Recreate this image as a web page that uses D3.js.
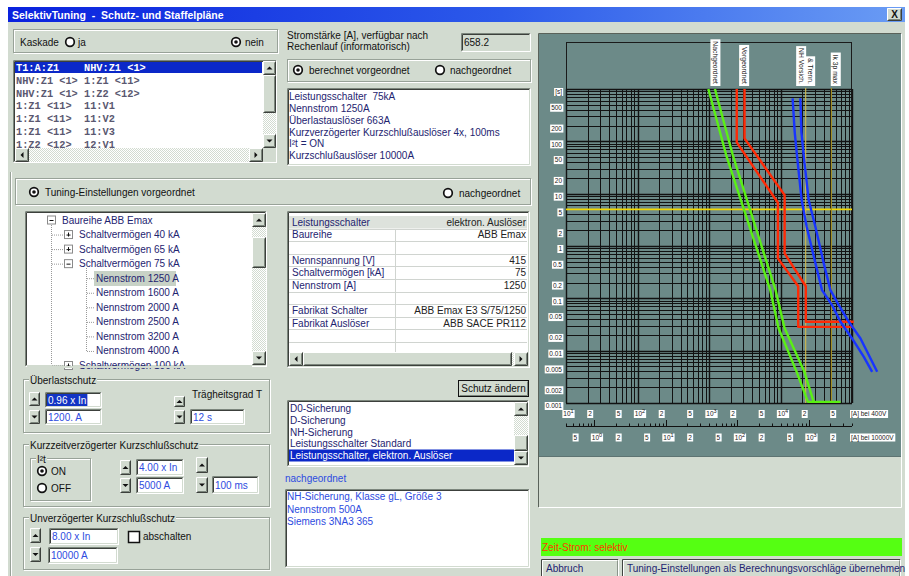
<!DOCTYPE html>
<html>
<head>
<meta charset="utf-8">
<title>SelektivTuning</title>
<script src="https://cdn.jsdelivr.net/npm/d3@7"></script>
<style>
  body { margin: 0; background: #ffffff; overflow: hidden; }
  svg { display: block; font-family: "Liberation Sans", Arial, sans-serif; }
  .pre { white-space: pre; }
</style>
</head>
<body>
<div id="app"></div>
<script>
// ---- chart data: current in A (at 400 V), time in s ----
const timeTicks  = [1000, 500, 200, 100, 50, 20, 10, 5, 2, 1, 0.5, 0.2, 0.1, 0.05, 0.02, 0.01, 0.005, 0.002, 0.001];
const timeLabels = ["[s]", "500", "200", "100", "50", "20", "10", "5", "2", "1", "0.5", "0.2", "0.1", "0.05", "0.02", "0.01", "0.005", "0.002", "0.001"];
const ampTicks400  = [10, 20, 50, 100, 200, 500, 1000, 2000, 5000, 10000, 20000, 50000];
const ampLabels400 = ["10^1", "2", "5", "10^2", "2", "5", "10^3", "2", "5", "10^4", "2", "5"];
const ampTicks10k  = [0.5, 1, 2, 5, 10, 20, 50, 100, 200, 500, 1000, 2000];
const ampLabels10k = ["5", "10^0", "2", "5", "10^1", "2", "5", "10^2", "2", "5", "10^3", "2"];

// downstream fuse NH gL 500A (band)
const fuseMin = [[980, 1000], [1738, 54.7], [7190, 0.1436], [9400, 0.0269], [16820, 0.00394], [24220, 0.00105], [69000, 0.00105]];
const fuseMax = [[1210, 1000], [2150, 54.7], [8530, 0.1436], [11420, 0.0269], [21570, 0.00394], [29120, 0.00105]];
// upstream breaker ABB Emax 1250A (band)
const breakerMin = [[2445, 1000], [2445, 95.7], [9200, 6.7], [9200, 0.58], [17700, 0.17], [17700, 0.0285], [106000, 0.0285]];
const breakerMax = [[3138, 1000], [3138, 114], [11420, 9.4], [11420, 0.72], [22600, 0.17], [22600, 0.0356], [106000, 0.0356]];
// medium voltage fuse (band)
const mvFuseMin = [[14780, 664], [15800, 150], [16980, 54.7], [19770, 7.55], [23230, 2.33], [30760, 0.471], [38080, 0.1436], [52600, 0.0741], [69000, 0.0356], [100300, 0.0171], [146400, 0.0076], [191400, 0.00394]];
const mvFuseMax = [[18960, 664], [19600, 150], [21090, 54.7], [24770, 7.55], [30760, 2.33], [40200, 0.471], [49900, 0.1436], [65300, 0.0741], [90200, 0.0356], [131500, 0.0171], [225000, 0.00394]];

const selectTime = 5;
const ikCurrents = [22500, 51500];
const tagTexts = ["Nachgeordnet", "Vorgeordnet", "NH Vorsich.", "& Trenn.", "Ik 3p max"];
const tagAmps  = [1230, 3100, 19450, 26000, 59300];

// ---- dialog texts ----
const cascadeRows = ["T1:A:Z1    NHV:Z1 <1>", "NHV:Z1 <1> 1:Z1 <11>", "NHV:Z1 <1> 1:Z2 <12>", "1:Z1 <11>  11:V1", "1:Z1 <11>  11:V2", "1:Z1 <11>  11:V3", "1:Z2 <12>  12:V1"];
const infoLines = ["Leistungsschalter  75kA", "Nennstrom 1250A", "Überlastauslöser 663A", "Kurzverzögerter Kurzschlußauslöser 4x, 100ms", "I²t = ON", "Kurzschlußauslöser 10000A"];
const treeTexts  = ["Baureihe ABB Emax", "Schaltvermögen 40 kA", "Schaltvermögen 65 kA", "Schaltvermögen 75 kA", "Nennstrom 1250 A", "Nennstrom 1600 A", "Nennstrom 2000 A", "Nennstrom 2500 A", "Nennstrom 3200 A", "Nennstrom 4000 A", "Schaltvermögen 100 kA"];
const treeLevels = [0, 1, 1, 1, 2, 2, 2, 2, 2, 2, 1];
const treeBoxes  = ["-", "+", "+", "-", "", "", "", "", "", "", "+"];
const propLabels = ["Leistungsschalter", "Baureihe", "", "Nennspannung [V]", "Schaltvermögen [kA]", "Nennstrom [A]", "", "Fabrikat Schalter", "Fabrikat Auslöser", "", ""];
const propValues = ["elektron. Auslöser", "ABB Emax", "", "415", "75", "1250", "", "ABB Emax E3 S/75/1250", "ABB SACE PR112", "", ""];
const protectionTypes = ["D0-Sicherung", "D-Sicherung", "NH-Sicherung", "Leistungsschalter Standard", "Leistungsschalter, elektron. Auslöser"];
const downstreamLines = ["NH-Sicherung, Klasse gL, Größe 3", "Nennstrom 500A", "Siemens 3NA3 365"];

const BODY = "#d2dbd0", TEAL = "#6c8a88", NAVY = "#1e2470", BLUE = "#2d4be0";

const svg = d3.select("#app").append("svg").attr("width", 909).attr("height", 576);
const defs = svg.append("defs");
const pat = defs.append("pattern").attr("id", "dots").attr("width", 2).attr("height", 2).attr("patternUnits", "userSpaceOnUse");
pat.append("rect").attr("width", 2).attr("height", 2).attr("fill", "#ffffff");
pat.append("rect").attr("width", 1).attr("height", 1).attr("fill", BODY);
pat.append("rect").attr("x", 1).attr("y", 1).attr("width", 1).attr("height", 1).attr("fill", BODY);
const grad = defs.append("linearGradient").attr("id", "titlebar");
grad.append("stop").attr("offset", 0).attr("stop-color", "#0a22de");
grad.append("stop").attr("offset", 0.55).attr("stop-color", "#2c5aea");
grad.append("stop").attr("offset", 1).attr("stop-color", "#6a9cf4");

function rect(g, x, y, w, h, fill, stroke) {
  return g.append("rect").attr("x", x).attr("y", y).attr("width", w).attr("height", h)
    .attr("fill", fill || "none").attr("stroke", stroke || "none");
}
function edge(g, x, y, w, h, tl, br) {
  g.append("path").attr("d", `M${x + .5},${y + h - .5}V${y + .5}H${x + w - .5}`).attr("fill", "none").attr("stroke", tl);
  g.append("path").attr("d", `M${x + w - .5},${y + .5}V${y + h - .5}H${x + .5}`).attr("fill", "none").attr("stroke", br);
}
function sunken(g, x, y, w, h, fill) {
  rect(g, x, y, w, h, fill);
  edge(g, x, y, w, h, "#7c867c", "#ffffff");
  edge(g, x + 1, y + 1, w - 2, h - 2, "#3c403c", BODY);
}
function raised(g, x, y, w, h) {
  rect(g, x, y, w, h, BODY);
  edge(g, x, y, w, h, "#ffffff", "#3c403c");
  edge(g, x + 1, y + 1, w - 2, h - 2, BODY, "#7c867c");
}
function label(g, x, cy, s, size, fill, anchor, weight) {
  return g.append("text").attr("x", x).attr("y", cy).attr("dy", "0.35em")
    .attr("font-size", size || 10).attr("fill", fill || "#111")
    .attr("text-anchor", anchor || "start").attr("font-weight", weight || "normal").text(s);
}
function group(g, x, y, w, h, title) {
  rect(g, x + 1.5, y + 1.5, w - 1, h - 1, "none", "#ffffff");
  rect(g, x + .5, y + .5, w - 1, h - 1, "none", "#98a298");
  if (title) {
    const t = label(g, x + 7, y + 1, title, 10, "#111");
    const bb = t.node().getBBox();
    g.insert("rect", () => t.node()).attr("x", bb.x - 1).attr("y", y - 1).attr("width", bb.width + 2).attr("height", 4).attr("fill", BODY);
  }
}
function arrowBtn(g, x, y, w, h, dir) {
  raised(g, x, y, w, h);
  const cx = x + w / 2, cy = y + h / 2, s = 3;
  const d = {
    up: `M${cx - s},${cy + 1.5}L${cx + s},${cy + 1.5}L${cx},${cy - 1.5}Z`,
    down: `M${cx - s},${cy - 1.5}L${cx + s},${cy - 1.5}L${cx},${cy + 1.5}Z`,
    left: `M${cx + 1.5},${cy - s}L${cx + 1.5},${cy + s}L${cx - 1.5},${cy}Z`,
    right: `M${cx - 1.5},${cy - s}L${cx - 1.5},${cy + s}L${cx + 1.5},${cy}Z`
  }[dir];
  g.append("path").attr("d", d).attr("fill", "#111");
}
function vscroll(g, x, y, w, h, ty, th) {
  rect(g, x, y, w, h, "url(#dots)");
  arrowBtn(g, x, y, w, 14, "up");
  arrowBtn(g, x, y + h - 14, w, 14, "down");
  raised(g, x, ty, w, th);
}
function hscroll(g, x, y, w, h, tx, tw) {
  rect(g, x, y, w, h, "url(#dots)");
  arrowBtn(g, x, y, 14, h, "left");
  arrowBtn(g, x + w - 14, y, 14, h, "right");
  if (tw) raised(g, tx, y, tw, h);
}
function radio(g, cx, cy, on) {
  g.append("circle").attr("cx", cx).attr("cy", cy).attr("r", 4.3).attr("fill", "#fff").attr("stroke", "#111").attr("stroke-width", 1.7);
  if (on) g.append("circle").attr("cx", cx).attr("cy", cy).attr("r", 1.8).attr("fill", "#111");
}
function field(g, x, y, w, h, s, selected) {
  sunken(g, x, y, w, h, "#ffffff");
  const t = label(g, x + 3, y + h / 2, s, 10, selected ? "#ffffff" : BLUE);
  if (selected) {
    const bb = t.node().getBBox();
    g.insert("rect", () => t.node()).attr("x", bb.x - 1).attr("y", y + 2).attr("width", bb.width + 2).attr("height", h - 4).attr("fill", "#1234c4");
  }
}

// ---- window frame ----
const ui = svg.append("g");
rect(ui, 8, 22, 897, 554, BODY);
rect(ui, 8, 7, 897, 15, "url(#titlebar)");
label(ui, 12, 15, "SelektivTuning  -  Schutz- und Staffelpläne", 10.5, "#ffffff", "start", "bold").attr("class", "pre");
raised(ui, 887, 8, 15, 13);
label(ui, 894.5, 14.5, "X", 10, "#111", "middle", "bold");
ui.append("line").attr("x1", 10.5).attr("x2", 10.5).attr("y1", 172).attr("y2", 576).attr("stroke", "#98a298");
ui.append("line").attr("x1", 11.5).attr("x2", 11.5).attr("y1", 172).attr("y2", 576).attr("stroke", "#ffffff");

// cascade
group(ui, 13, 29, 265, 24);
label(ui, 20, 42, "Kaskade", 10);
radio(ui, 70, 42, false); label(ui, 78, 42, "ja", 10);
radio(ui, 236, 42, true); label(ui, 245, 42, "nein", 10);

sunken(ui, 13, 60, 264, 103, "#ffffff");
rect(ui, 15, 62, 247, 11, "#0b28c8");
ui.append("g").selectAll("text").data(cascadeRows).join("text")
  .attr("x", 16).attr("y", (d, i) => 67.7 + i * 12.7).attr("dy", "0.35em")
  .attr("font-family", "'Liberation Mono', 'Courier New', monospace").attr("font-size", 10.3).attr("font-weight", "bold")
  .attr("fill", (d, i) => i === 0 ? "#ffffff" : "#5a5870").attr("class", "pre")
  .text(d => d);
vscroll(ui, 263, 61, 13, 87, 75, 38);
hscroll(ui, 15, 148, 248, 14, 0, 0);
rect(ui, 263, 148, 13, 14, BODY);

// current info
label(ui, 287, 35, "Stromstärke [A], verfügbar nach", 10);
label(ui, 287, 46, "Rechenlauf (informatorisch)", 10);
sunken(ui, 461, 33, 70, 19, BODY);
label(ui, 464, 42, "658.2", 10);

group(ui, 287, 59, 244, 23);
radio(ui, 298, 70, true); label(ui, 309, 70, "berechnet vorgeordnet", 10);
radio(ui, 440, 70, false); label(ui, 450, 70, "nachgeordnet", 10);

sunken(ui, 287, 88, 244, 78, "#ffffff");
ui.append("g").selectAll("text").data(infoLines).join("text")
  .attr("x", 289).attr("y", (d, i) => 96.7 + i * 11.8).attr("dy", "0.35em").attr("class", "pre")
  .attr("font-size", 10).attr("fill", NAVY).text(d => d);

// tuning header
group(ui, 15, 178, 516, 27);
radio(ui, 34, 192, true); label(ui, 45, 192, "Tuning-Einstellungen vorgeordnet", 10);
radio(ui, 448, 193, false); label(ui, 459, 193, "nachgeordnet", 10);

// tree view
sunken(ui, 25, 211, 242, 156, "#ffffff");
const tree = ui.append("g");
tree.append("line").attr("x1", 51.5).attr("x2", 51.5).attr("y1", 225).attr("y2", 365).attr("stroke", "#999").attr("stroke-dasharray", "1,1");
tree.append("line").attr("x1", 86.5).attr("x2", 86.5).attr("y1", 268).attr("y2", 351).attr("stroke", "#999").attr("stroke-dasharray", "1,1");
rect(tree, 94, 271, 82, 15, "#c8d2c6");
treeTexts.forEach((s, i) => {
  const cy = 220 + i * 14.55, lv = treeLevels[i];
  const tx = [62, 79, 96][lv];
  if (lv === 1) tree.append("line").attr("x1", 52).attr("x2", 64).attr("y1", cy + .5).attr("y2", cy + .5).attr("stroke", "#999").attr("stroke-dasharray", "1,1");
  if (lv === 2) tree.append("line").attr("x1", 87).attr("x2", 94).attr("y1", cy + .5).attr("y2", cy + .5).attr("stroke", "#999").attr("stroke-dasharray", "1,1");
  if (treeBoxes[i]) {
    const bx = [47, 64][lv];
    rect(tree, bx + .5, cy - 4, 8, 8, "#ffffff", "#8a8a8a");
    tree.append("line").attr("x1", bx + 2.5).attr("x2", bx + 6.5).attr("y1", cy + .5).attr("y2", cy + .5).attr("stroke", "#111");
    if (treeBoxes[i] === "+") tree.append("line").attr("x1", bx + 4.5).attr("x2", bx + 4.5).attr("y1", cy - 2).attr("y2", cy + 2).attr("stroke", "#111");
  }
  label(tree, tx, cy, s, 10, NAVY);
});
rect(ui, 27, 366, 225, 2, BODY);
vscroll(ui, 252, 213, 14, 152, 237, 31);

// property grid
sunken(ui, 287, 211, 243, 157, "#ffffff");
const grid = ui.append("g");
rect(grid, 289, 216, 238, 12.5, "#dde2dc");
propLabels.forEach((s, i) => {
  const cy = 222.3 + i * 12.6;
  grid.append("line").attr("x1", 289).attr("x2", 527).attr("y1", Math.round(cy + 6.3) + .5).attr("y2", Math.round(cy + 6.3) + .5).attr("stroke", "#d0d4d0");
  label(grid, 292, cy, s, 10, NAVY);
  label(grid, 526, cy, propValues[i], 10, "#222", "end");
});
grid.append("line").attr("x1", 395.5).attr("x2", 395.5).attr("y1", 229).attr("y2", 352).attr("stroke", "#d0d4d0");
hscroll(ui, 289, 352, 239, 14, 303, 209);

raised(ui, 458, 380, 71, 17);
rect(ui, 458.5, 380.5, 70, 16, "none", "#111");
label(ui, 493.5, 388.5, "Schutz ändern", 10, "#111", "middle");

sunken(ui, 287, 400, 242, 67, "#ffffff");
rect(ui, 289, 449.5, 225, 12, "#0b28c8");
ui.append("g").selectAll("text").data(protectionTypes).join("text")
  .attr("x", 290).attr("y", (d, i) => 408.3 + i * 11.85).attr("dy", "0.35em").attr("font-size", 10)
  .attr("fill", (d, i) => i === protectionTypes.length - 1 ? "#ffffff" : NAVY).text(d => d);
vscroll(ui, 514, 402, 14, 63, 435, 16);

label(ui, 285, 478, "nachgeordnet", 10, BLUE);
sunken(ui, 285, 489, 245, 79, "#ffffff");
ui.append("g").selectAll("text").data(downstreamLines).join("text")
  .attr("x", 287).attr("y", (d, i) => 496.7 + i * 12.5).attr("dy", "0.35em").attr("font-size", 10)
  .attr("fill", BLUE).text(d => d);

// overload protection
group(ui, 23, 379, 247, 54, "Überlastschutz");
arrowBtn(ui, 29, 392, 11, 14, "up"); field(ui, 45, 392, 57, 16, "0.96 x In", true);
arrowBtn(ui, 29, 410, 11, 14, "down"); field(ui, 45, 409, 57, 16, "1200. A");
label(ui, 192, 394, "Trägheitsgrad T", 10);
arrowBtn(ui, 174, 396, 11, 11, "up"); field(ui, 190, 409, 55, 16, "12 s");
arrowBtn(ui, 174, 410, 11, 14, "down");

group(ui, 23, 444, 247, 63, "Kurzzeitverzögerter Kurzschlußschutz");
group(ui, 30, 458, 61, 43, "I²t");
radio(ui, 42, 471, true); label(ui, 51, 471, "ON", 10);
radio(ui, 42, 488, false); label(ui, 51, 488, "OFF", 10);
arrowBtn(ui, 120, 460, 11, 15, "up"); field(ui, 136, 459, 48, 17, "4.00 x In");
arrowBtn(ui, 120, 478, 11, 15, "down"); field(ui, 136, 477, 48, 17, "5000 A");
arrowBtn(ui, 196, 457, 12, 16, "up");
arrowBtn(ui, 196, 477, 12, 16, "down"); field(ui, 212, 476, 47, 18, "100 ms");

group(ui, 23, 517, 247, 53, "Unverzögerter Kurzschlußschutz");
arrowBtn(ui, 30, 528, 11, 15, "up"); field(ui, 49, 528, 70, 17, "8.00 x In");
arrowBtn(ui, 30, 547, 11, 15, "down"); field(ui, 48, 547, 70, 17, "10000 A");
rect(ui, 128.5, 531.5, 11, 11, "#ffffff", "#111").attr("stroke-width", 1.5);
label(ui, 143, 536, "abschalten", 10);

// status + buttons
rect(ui, 541, 538, 361, 18, "#55ff12");
label(ui, 542, 547, "Zeit-Strom: selektiv", 10, "#ff3a00");
[[541, 78, "Abbruch"], [622, 279, "Tuning-Einstellungen als Berechnungsvorschläge übernehmen"]].forEach(b => {
  rect(ui, b[0], 559, b[1], 20, BODY);
  edge(ui, b[0], 559, b[1], 20, "#404540", "#ffffff");
  edge(ui, b[0] + 1, 560, b[1] - 2, 18, "#ffffff", "#8a948a");
  label(ui, b[0] + 5, 568, b[2], 10, NAVY);
});

// ---- chart panel ----
rect(ui, 538, 33, 364, 475, BODY);
edge(ui, 538, 33, 364, 475, "#5a625a", "#ffffff");
rect(ui, 539, 34, 362, 422, TEAL);
ui.append("line").attr("x1", 539).attr("x2", 901).attr("y1", 456.5).attr("y2", 456.5).attr("stroke", "#5e7472");

const x = d3.scaleLog().domain([10, 1e5]).range([566, 852]);
const x10k = d3.scaleLog().domain([0.4, 4000]).range([566, 852]);
const y = d3.scaleLog().domain([1000, 0.001]).range([89, 403]);
const isDecade = v => Math.abs(Math.log10(v) - Math.round(Math.log10(v))) < 1e-9;

const chart = svg.append("g");
chart.append("rect").attr("x", 566.5).attr("y", 42.5).attr("width", 285).attr("height", 361)
  .attr("fill", "none").attr("stroke", "#1a1a1a");

chart.append("g").selectAll("line").data(x.ticks()).join("line")
  .attr("x1", d => Math.round(x(d)) + .5).attr("x2", d => Math.round(x(d)) + .5)
  .attr("y1", 89).attr("y2", 403).attr("stroke", "#121212").attr("stroke-width", d => isDecade(d) ? 1.4 : 1);
chart.append("g").selectAll("line").data(y.ticks()).join("line")
  .attr("x1", 566).attr("x2", 852)
  .attr("y1", d => Math.round(y(d)) + .5).attr("y2", d => Math.round(y(d)) + .5)
  .attr("stroke", "#121212").attr("stroke-width", d => isDecade(d) ? 1.4 : 1);

// axis labels in white boxes
function boxedText(g, xPos, cy, s, anchor) {
  const t = g.append("text").attr("x", xPos).attr("y", cy).attr("dy", "0.35em")
    .attr("font-size", 6.5).attr("fill", "#1a1a1a").attr("text-anchor", anchor);
  const m = s.match(/^10\^(\d)$/);
  if (m) {
    t.append("tspan").text("10");
    t.append("tspan").attr("font-size", 5.5).attr("dy", -3).text(m[1]);
  } else t.text(s);
  const bb = t.node().getBBox();
  g.insert("rect", () => t.node()).attr("x", bb.x - 1).attr("y", cy - 4).attr("width", bb.width + 2).attr("height", 8).attr("fill", "#ffffff");
}
const axes = chart.append("g");
timeTicks.forEach((v, i) => boxedText(axes, 562, y(v) + 3, timeLabels[i], "end"));
ampTicks400.forEach((v, i) => boxedText(axes, x(v) + 2.5, 414, ampLabels400[i], "middle"));
ampTicks10k.forEach((v, i) => boxedText(axes, x10k(v) + 2.5, 437.5, ampLabels10k[i], "middle"));
boxedText(axes, 851, 414, "[A] bei 400V", "start");
boxedText(axes, 851, 437.5, "[A] bei 10000V", "start");

// secondary (10 kV) current axis
axes.append("line").attr("x1", 566).attr("x2", 852).attr("y1", 426.5).attr("y2", 426.5).attr("stroke", "#111");
axes.append("g").selectAll("line").data(x10k.ticks()).join("line")
  .attr("x1", d => Math.round(x10k(d)) + .5).attr("x2", d => Math.round(x10k(d)) + .5)
  .attr("y1", 426).attr("y2", d => isDecade(d) ? 420 : 423.5).attr("stroke", "#111");

// markers
chart.append("line").attr("x1", 566).attr("x2", 852).attr("y1", y(selectTime)).attr("y2", y(selectTime))
  .attr("stroke", "#f4d800").attr("stroke-width", 1.6);
chart.append("g").selectAll("line").data(ikCurrents).join("line")
  .attr("x1", d => x(d)).attr("x2", d => x(d)).attr("y1", 88).attr("y2", 403)
  .attr("stroke", (d, i) => i === 0 ? "#d2b84a" : "#a8901e").attr("stroke-width", 1.1);

// curves
const line = d3.line().x(d => x(d[0])).y(d => y(d[1]));
const curves = [[fuseMin, "#5af014"], [fuseMax, "#5af014"], [breakerMin, "#ff2a06"], [breakerMax, "#ff2a06"], [mvFuseMin, "#1834ff"], [mvFuseMax, "#1834ff"]];
chart.append("g").selectAll("path").data(curves).join("path")
  .attr("d", d => line(d[0])).attr("fill", "none").attr("stroke", d => d[1])
  .attr("stroke-width", 2.4).attr("stroke-linejoin", "round");

// curve tags
tagTexts.forEach((s, i) => {
  const cx = x(tagAmps[i]), yEnd = 84;
  const g = chart.append("g");
  const t = g.append("text").attr("x", cx).attr("y", yEnd).attr("dy", "0.35em")
    .attr("font-size", 6.8).attr("fill", "#1a1a1a").attr("text-anchor", "end")
    .attr("transform", `rotate(90,${cx},${yEnd})`).text(s);
  const len = t.node().getComputedTextLength();
  g.insert("rect", () => t.node()).attr("x", cx - 5).attr("y", yEnd - len - 2).attr("width", 10).attr("height", len + 4).attr("fill", "#ffffff");
});
</script>
</body>
</html>
